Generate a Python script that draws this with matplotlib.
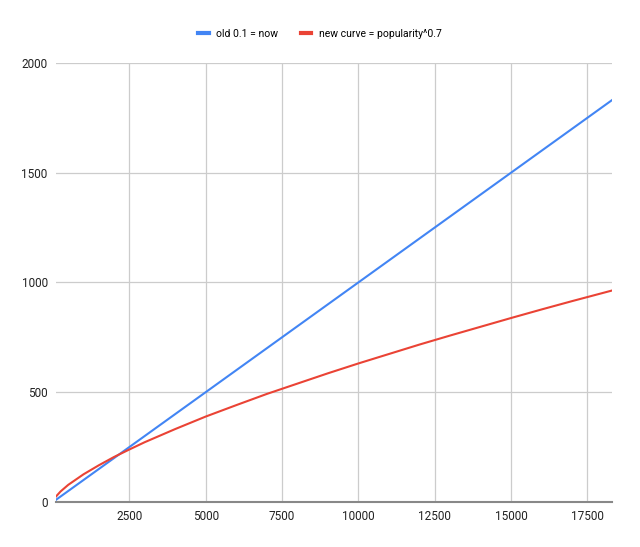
import matplotlib
matplotlib.use("Agg")
import matplotlib.pyplot as plt

# popularity values (x) and the two curves
popularity = [100, 250, 500, 1000, 1500, 2000, 2500, 3000, 4000, 5000, 6000,
              7000, 8000, 9000, 10000, 11000, 12000, 13000, 14000, 15000,
              16000, 17000, 18300]
old_curve = [10, 25, 50, 100, 150, 200, 250, 300, 400, 500, 600,
             700, 800, 900, 1000, 1100, 1200, 1300, 1400, 1500,
             1600, 1700, 1830]
new_curve = [25, 48, 78, 126, 167, 205, 239, 272, 332, 389, 441,
             492, 539, 586, 631, 674, 717, 758, 798, 838,
             877, 915, 963]

x_ticks = [2500, 5000, 7500, 10000, 12500, 15000, 17500]
y_ticks = [0, 500, 1000, 1500, 2000]

plt.rcParams['font.family'] = ['Roboto', 'DejaVu Sans']

fig = plt.figure(figsize=(6.4, 5.47), dpi=100)
ax = fig.add_axes([0.0875, 0.0823, 0.8685, 0.8027])

ax.plot(popularity, old_curve, color='#4285F4', lw=1.5, label='old 0.1 = now')
ax.plot(popularity, new_curve, color='#EA4335', lw=1.5,
        label='new curve = popularity^0.7')

ax.set_xlim(popularity[0], popularity[-1])
ax.set_ylim(0, 2000)
ax.set_xticks(x_ticks)
ax.set_yticks(y_ticks)
ax.set_xticklabels([str(t) for t in x_ticks])
ax.set_yticklabels([str(t) for t in y_ticks])
ax.tick_params(length=0, labelsize=8.5, colors='#222222', pad=6)

ax.grid(True, color='#cccccc', lw=0.9)
ax.set_axisbelow(True)
for side in ['top', 'right', 'left']:
    ax.spines[side].set_visible(False)
ax.spines['bottom'].set_color('#888888')
ax.spines['bottom'].set_linewidth(1.5)

fig.legend(loc='upper center', bbox_to_anchor=(0.5, 0.965), ncol=2,
           frameon=False, fontsize=7.5, handlelength=1.0, handleheight=0.5,
           columnspacing=2.2, handletextpad=0.7)
for line in fig.legends[0].get_lines():
    line.set_linewidth(3)

fig.savefig('out.png', dpi=100)
